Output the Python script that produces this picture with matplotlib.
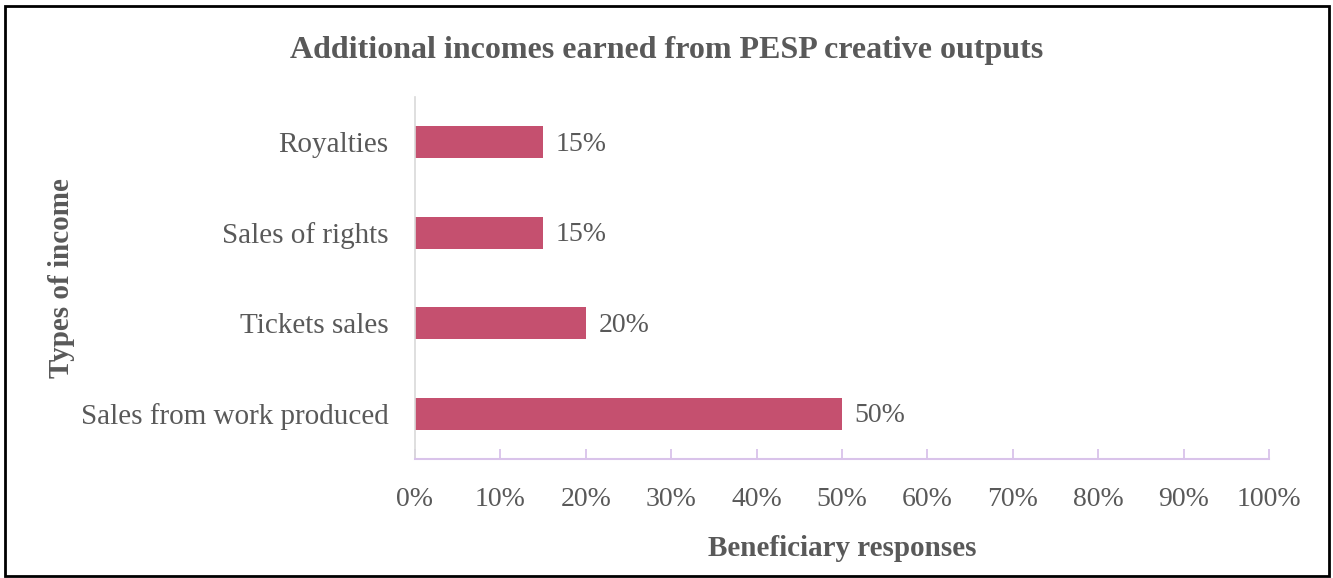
import matplotlib
matplotlib.use('Agg')
import matplotlib.pyplot as plt
from matplotlib.patches import Rectangle
from matplotlib.ticker import PercentFormatter

# income types, bottom to top
categories = ["Sales from work produced", "Tickets sales", "Sales of rights", "Royalties"]
percents = [50, 20, 15, 15]
xticks = list(range(0, 101, 10))

plt.rcParams['font.family'] = ['Liberation Serif', 'DejaVu Serif']
grey = '#595959'

fig = plt.figure(figsize=(13.33, 5.78), dpi=100)
ax = fig.add_axes([0.3113, 0.2059, 0.6407, 0.6263])

bars = ax.barh(categories, percents, height=0.35, color='#C5506F')
for b, v in zip(bars, percents):
    ax.text(b.get_width() + 1.5, b.get_y() + b.get_height() / 2 - 0.02, f"{v}%",
            va='center', ha='left', fontsize=20, color=grey)

ax.set_xlim(0, 100)
ax.set_ylim(-0.5, 3.5)
ax.set_xticks(xticks)
ax.xaxis.set_major_formatter(PercentFormatter(decimals=0))
ax.tick_params(axis='x', direction='in', length=7, width=1.3, color='#D9C3EA',
               labelsize=20, labelcolor=grey, pad=20)
ax.tick_params(axis='y', length=0, labelsize=21, labelcolor=grey, pad=19)

for side in ('top', 'right'):
    ax.spines[side].set_visible(False)
ax.spines['bottom'].set_color('#D9C3EA')
ax.spines['bottom'].set_linewidth(1.5)
ax.spines['left'].set_color('#D9D9D9')
ax.spines['left'].set_linewidth(1.2)

ax.set_xlabel("Beneficiary responses", fontsize=21, fontweight='bold', color=grey, labelpad=17)
ax.set_ylabel("Types of income", fontsize=21, fontweight='bold', color=grey)
ax.yaxis.set_label_coords(-0.398, 0.5)

fig.text(0.5, 0.912, "Additional incomes earned from PESP creative outputs",
         ha='center', va='center', fontsize=23, fontweight='bold', color=grey)

# frame around the whole chart
fig.patches.append(Rectangle((0.0035, 0.004), 0.9935, 0.986, transform=fig.transFigure,
                             fill=False, edgecolor='black', linewidth=2))

fig.savefig('out.png', dpi=100)
